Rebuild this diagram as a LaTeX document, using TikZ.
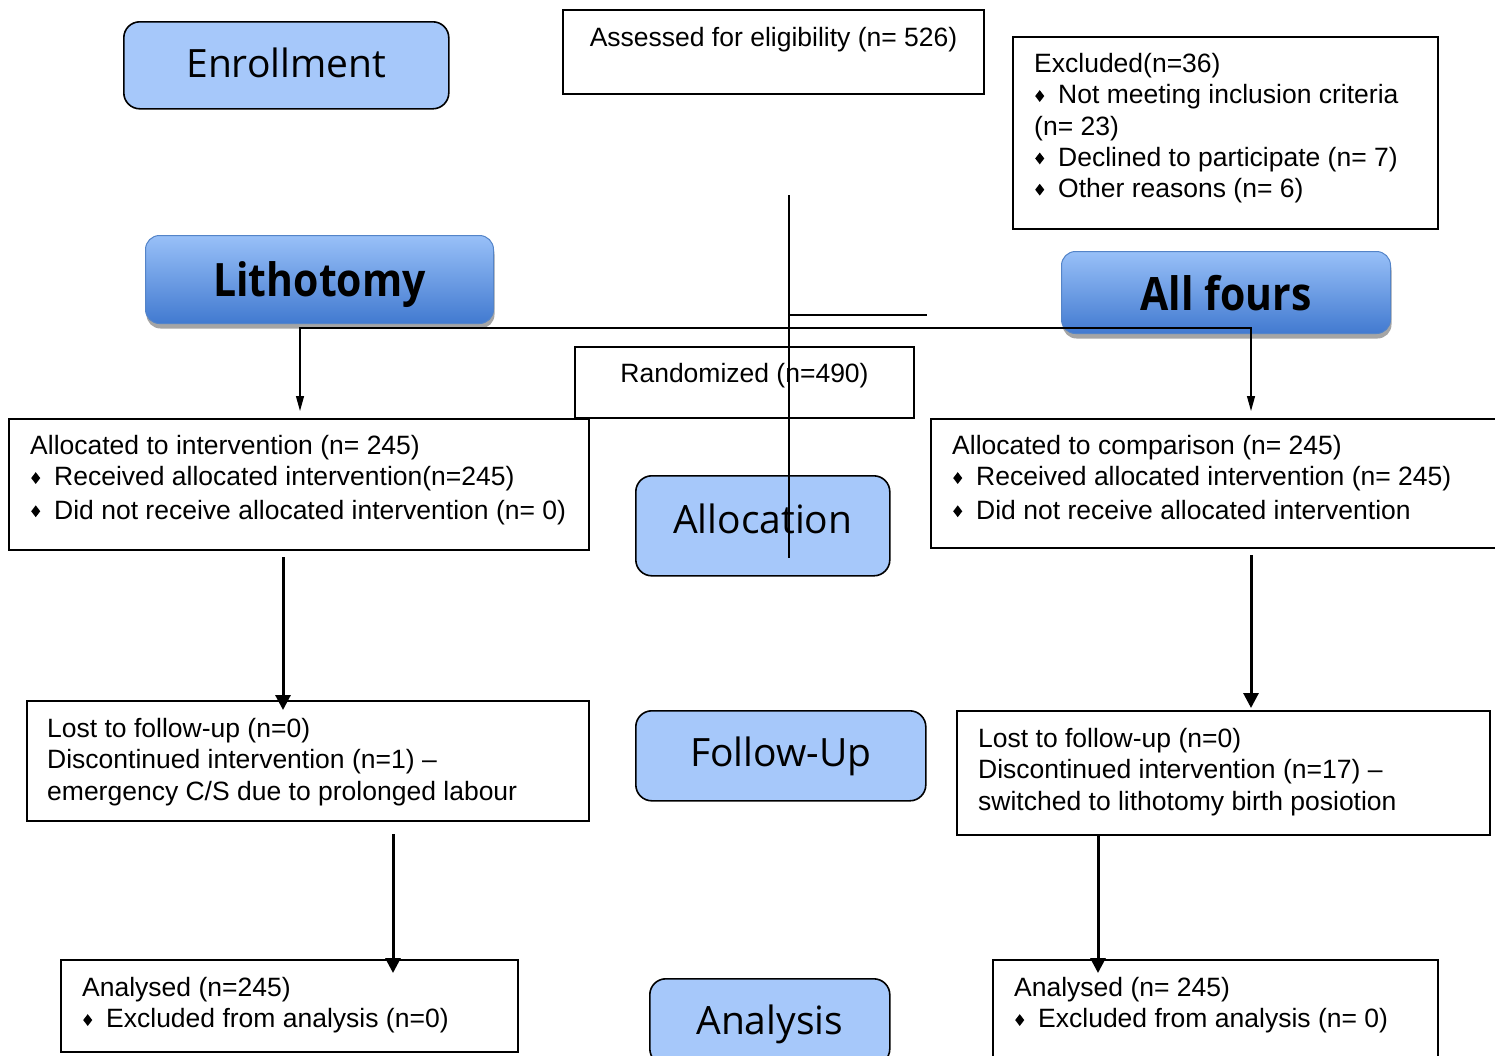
\documentclass[tikz,border=0pt]{standalone}
\usepackage{fontspec}
\setmainfont{Liberation Sans}
\newfontfamily\headfont{Open Sans}
\newfontfamily\boldheadfont[FakeStretch=0.89]{Open Sans}
\usetikzlibrary{arrows.meta,shadows}

\definecolor{headblue}{RGB}{166,200,250}
\definecolor{gradtop}{RGB}{152,192,248}
\definecolor{gradbot}{RGB}{66,122,208}
\definecolor{gradedge}{RGB}{84,132,200}
\definecolor{shadowgrey}{RGB}{165,165,165}

% small diamond bullet followed by the hanging indent
\newcommand{\dia}{\makebox[24pt][l]{\hspace{1pt}\raisebox{2pt}{\scalebox{1}[1.3]{\rotatebox{45}{\rule{6.4pt}{6.4pt}}}}}}

\tikzset{
  box/.style={draw=black, line width=1.8pt, anchor=north west, inner sep=0pt, outer sep=0pt},
  bodytext/.style={anchor=north west, inner sep=0pt, align=left,
    font=\fontsize{26.5}{31.2}\selectfont},
  onetext/.style={anchor=base, inner sep=0pt, font=\fontsize{26.5}{31.2}\selectfont},
  stage/.style={draw=black, line width=1.6pt, fill=headblue, rounded corners=16pt,
    anchor=north west, inner sep=0pt, text depth=6pt,
    font=\headfont\fontsize{39}{44}\selectfont},
  arm/.style={draw=gradedge, line width=1pt, rounded corners=14pt,
    top color=gradtop, bottom color=gradbot, anchor=north west, inner sep=0pt,
    text depth=0pt, font=\boldheadfont\bfseries\fontsize{46}{50}\selectfont,
    drop shadow={shadow xshift=1pt, shadow yshift=-5pt, fill=shadowgrey, opacity=1}},
  thinline/.style={line width=1.2pt},
  bigarrow/.style={line width=3pt, -{Triangle[width=15pt,length=15pt]}},
  splitarrow/.style={line width=1.2pt,
    {Triangle[width=8pt,length=15pt]}-{Triangle[width=8pt,length=15pt]}},
}

\begin{document}
\begin{tikzpicture}[x=1pt, y=-1pt]
\useasboundingbox (0,0) rectangle (1495,1055);

% stage labels
\node[stage, minimum width=325pt, minimum height=87pt] (enroll) at (123,21) {Enrollment};
\node[stage, text depth=14pt, minimum width=254pt, minimum height=100pt] (allocstage) at (635,475) {Allocation};
\node[stage, text depth=8pt, minimum width=290pt, minimum height=90pt] (followstage) at (635,710) {Follow-Up};
\node[stage, text depth=4pt, minimum width=240pt, minimum height=86pt] (analysisstage) at (649,978) {Analysis};

% arm headers
\node[arm, minimum width=348pt, minimum height=88pt] (litho) at (145,235) {Lithotomy};
\node[arm, minimum width=329pt, minimum height=82pt] (allfours) at (1061,251) {All fours};

% enrolment boxes
\node[box, line width=1.5pt, minimum width=421pt, minimum height=84pt] (assess) at (563,10) {};
\node[onetext] (assessT) at (773.5,46.5) {Assessed for eligibility (n= 526)};

\node[box, minimum width=425pt, minimum height=192pt] (excl) at (1013,37) {};
\node[bodytext] (exclT) at (1034,50.7) {\strut Excluded(n=36)\\
  \dia Not meeting inclusion criteria\\
  (n= 23)\\
  \dia Declined to participate (n= 7)\\
  \dia Other reasons (n= 6)};

\node[box, minimum width=339pt, minimum height=71pt] (rand) at (575,347) {};
\node[onetext] (randT) at (744.5,382.5) {Randomized (n=490)};

% allocation boxes
\node[box, minimum width=580pt, minimum height=131pt] (allocL) at (9,419) {};
\node[bodytext] (allocLT) at (30,432.7) {\strut Allocated to intervention (n= 245)\\
  \dia Received allocated intervention(n=245)\\[2pt]
  \dia Did not receive allocated intervention (n= 0)};

\node[box, minimum width=600pt, minimum height=129pt] (allocR) at (931,419) {};
\node[bodytext] (allocRT) at (952,432.7) {\strut Allocated to comparison (n= 245)\\
  \dia Received allocated intervention (n= 245)\\[2pt]
  \dia Did not receive allocated intervention};

% follow-up boxes
\node[box, minimum width=562pt, minimum height=120pt] (lostL) at (27,701) {};
\node[bodytext] (lostLT) at (47,715.7) {\strut Lost to follow-up (n=0)\\
  Discontinued intervention (n=1) --\\
  emergency C/S due to prolonged labour};

\node[box, minimum width=533pt, minimum height=124pt] (lostR) at (957,711) {};
\node[bodytext] (lostRT) at (978,725.7) {\strut Lost to follow-up (n=0)\\
  Discontinued intervention (n=17) --\\
  switched to lithotomy birth posiotion};

% analysis boxes
\node[box, minimum width=457pt, minimum height=92pt] (anaL) at (61,960) {};
\node[bodytext] (anaLT) at (82,974.7) {\strut Analysed (n=245)\\
  \dia Excluded from analysis (n=0)};

\node[box, minimum width=445pt, minimum height=130pt] (anaR) at (993,960) {};
\node[bodytext] (anaRT) at (1014,974.7) {\strut Analysed (n= 245)\\
  \dia Excluded from analysis (n= 0)};

% connector end points
\coordinate (vtop) at (789,195);
\coordinate (vbot) at (789,558);
\coordinate (vmid) at (789,315);
\coordinate (stub) at (927,315);
\coordinate (splitL) at (300,328);
\coordinate (splitR) at (1251,328);
\coordinate (tipL) at (300,411);
\coordinate (tipR) at (1251,411);
\coordinate (aLs) at (283,557);
\coordinate (aLe) at (283,710);
\coordinate (aRs) at (1251,555);
\coordinate (aRe) at (1251,708);
\coordinate (bLs) at (393,834);
\coordinate (bLe) at (393,973);
\coordinate (bRs) at (1098,835);
\coordinate (bRe) at (1098,973);

% connectors
\draw[thinline] (vtop) -- (vbot);
\draw[thinline] (vmid) -- (stub);
\draw[splitarrow] (tipL) -- (splitL) -- (splitR) -- (tipR);
\draw[bigarrow] (aLs) -- (aLe);
\draw[bigarrow] (aRs) -- (aRe);
\draw[bigarrow] (bLs) -- (bLe);
\draw[bigarrow] (bRs) -- (bRe);
\end{tikzpicture}
\end{document}
